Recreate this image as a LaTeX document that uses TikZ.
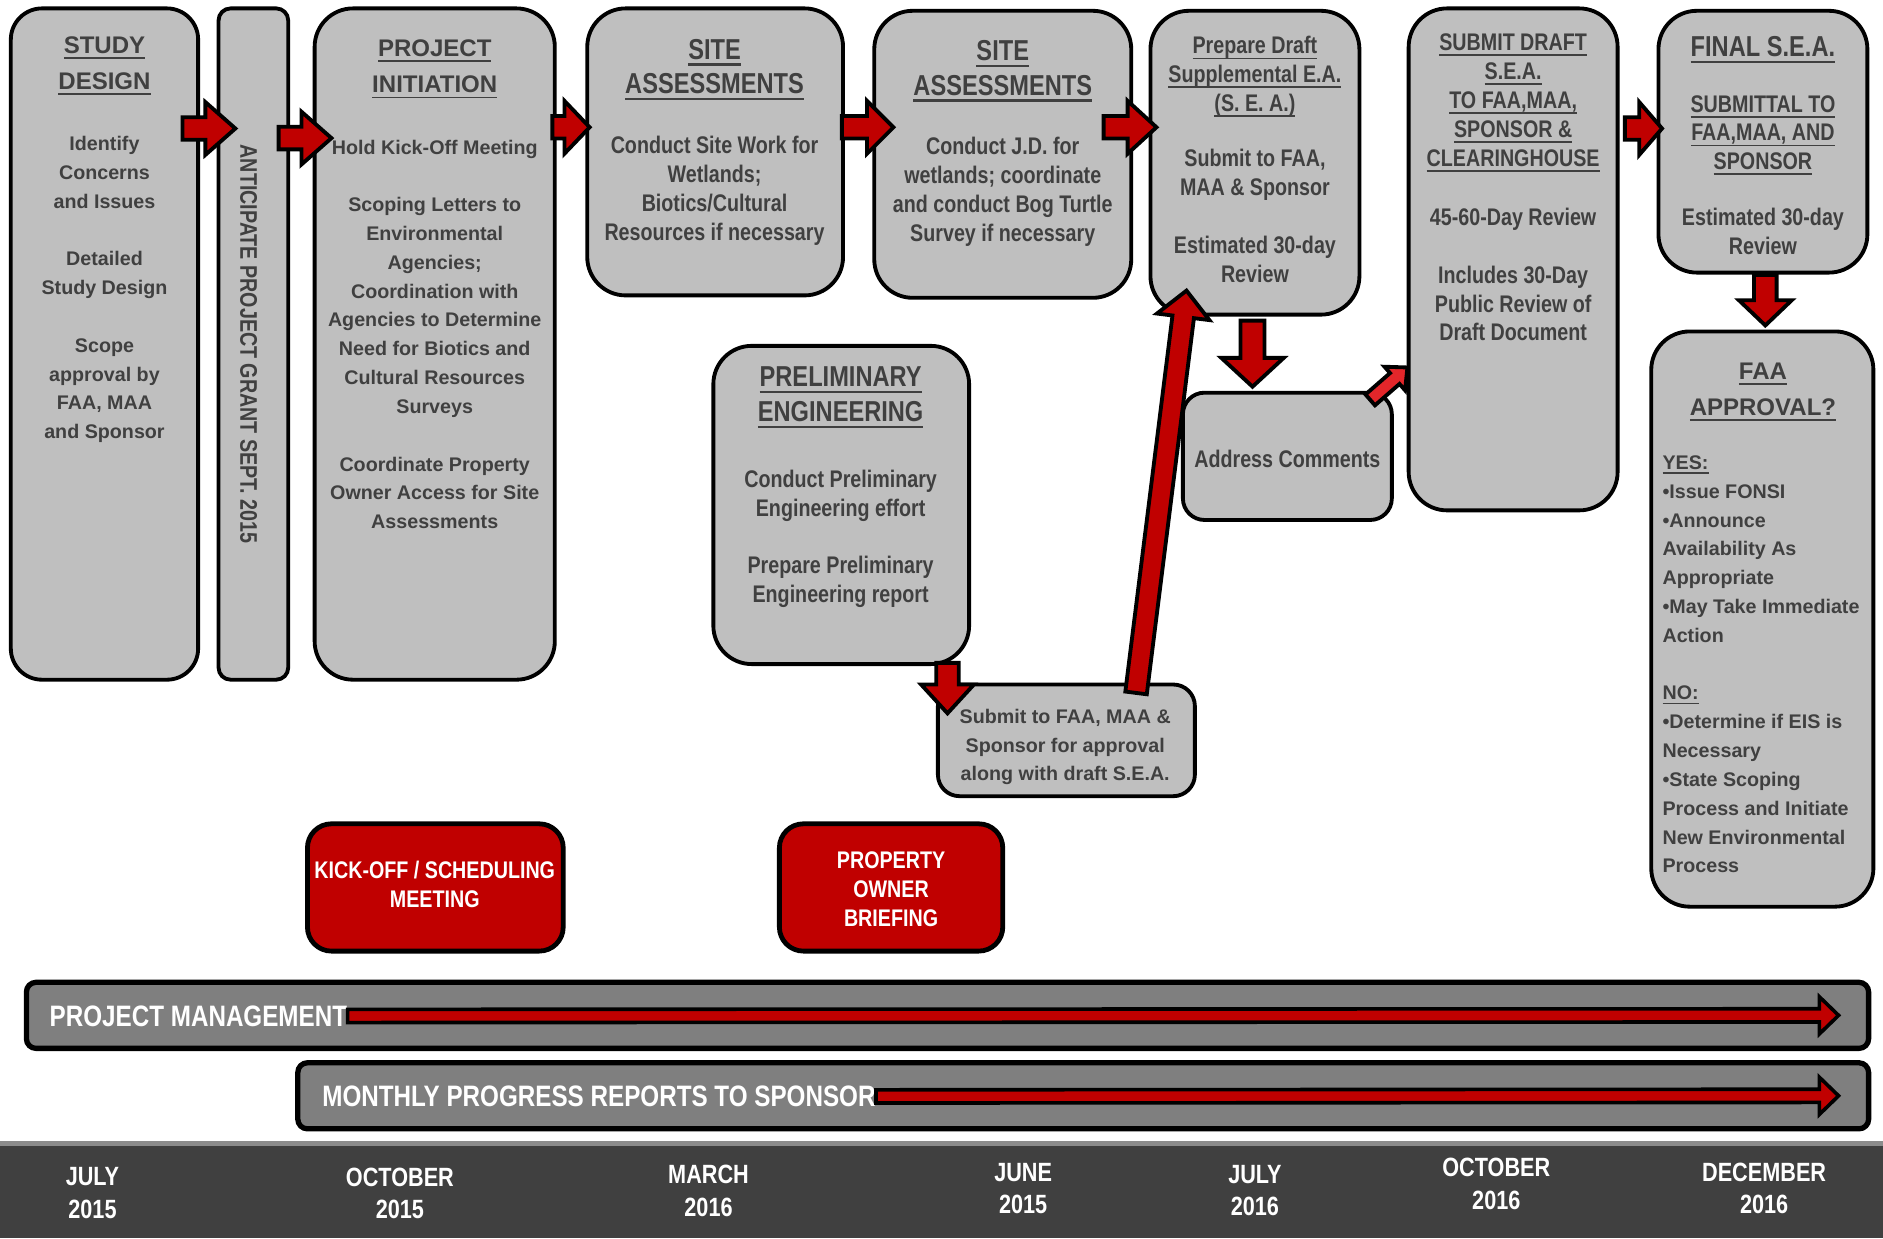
\documentclass[tikz,border=0pt]{standalone}
\usepackage{fontspec}
\setmainfont{Liberation Sans}
\newfontfamily\nar{Liberation Sans}[FakeStretch=0.82]
\usetikzlibrary{calc}
\definecolor{boxgray}{HTML}{BFBFBF}
\definecolor{txtgray}{HTML}{404040}
\definecolor{arrred}{HTML}{C00000}
\definecolor{arrlight}{HTML}{E3262A}
\definecolor{bargray}{HTML}{7F7F7F}
\definecolor{banddark}{HTML}{404040}
\definecolor{bandline}{HTML}{8C8C8C}
\newcommand\myul[1]{\leavevmode\setbox0\hbox{#1}\rlap{\vrule width\wd0 height -0.15em depth 0.23em}\box0}
\newcommand\boxnode[6][]{\node[#1, minimum width={(#5-#3)*0.5pt}, minimum height={(#6-#4)*0.5pt}] (#2) at ({(#3+#5)/2},{(#4+#6)/2}) {};}
% block arrow: #1 style, #2 from, #3 to, #4 shaft half width, #5 head half width, #6 head length
\newcommand\barrow[6][]{%
  \coordinate (baP) at ($(#3)!#6!(#2)$);
  \draw[blockarrow,#1] ($(#2)!#4!90:(#3)$) -- ($(baP)!#4!-90:(#2)$) -- ($(baP)!#5!-90:(#2)$) -- (#3)
    -- ($(baP)!#5!90:(#2)$) -- ($(baP)!#4!90:(#2)$) -- ($(#2)!#4!-90:(#3)$) -- cycle;}
\tikzset{
  graybox/.style={draw=black, fill=boxgray, line width=1.6pt, inner sep=0pt, outer sep=0pt, rounded corners=14pt},
  redbox/.style={draw=black, fill=arrred, line width=2pt, inner sep=0pt, outer sep=0pt, rounded corners=10pt},
  barbox/.style={draw=black, fill=bargray, line width=2.2pt, inner sep=0pt, outer sep=0pt, rounded corners=4pt},
  blockarrow/.style={draw=black, fill=arrred, line width=1.6pt, line join=miter},
  bararrow/.style={draw=black, fill=arrred, line width=1.5pt, line join=miter},
  rt/.style={font=\bfseries\fontsize{10}{15}\selectfont, text=txtgray, align=center, inner sep=0pt},
  rb/.style={font=\bfseries\fontsize{8.2}{12}\selectfont, text=txtgray, align=center, inner sep=0pt},
  nt/.style={font=\nar\bfseries\fontsize{12}{14.5}\selectfont, text=txtgray, align=center, inner sep=0pt},
  nb/.style={font=\nar\bfseries\fontsize{10}{12}\selectfont, text=txtgray, align=center, inner sep=0pt},
  wt/.style={font=\nar\bfseries\fontsize{10}{12}\selectfont, text=white, align=center, inner sep=0pt},
  bart/.style={font=\nar\bfseries\fontsize{12.3}{14}\selectfont, text=white, inner sep=0pt, anchor=west},
  datet/.style={font=\nar\bfseries\fontsize{11}{13.5}\selectfont, text=white, align=center, inner sep=0pt, anchor=north},
}
\begin{document}
\begin{tikzpicture}[x=0.5pt,y=-0.5pt]
\useasboundingbox (0,0) rectangle (1568,1031);
% bottom timeline band
\fill[banddark] (0,950) rectangle (1568,1031);
\fill[bandline] (0,950) rectangle (1568,954);
% boxes
\boxnode[graybox, rounded corners=13pt]{study}{9}{7}{165}{566}
\boxnode[graybox, rounded corners=5pt]{anti}{182}{7}{240}{566}
\boxnode[graybox, rounded corners=16pt]{proj}{262}{7}{462}{566}
\boxnode[graybox, rounded corners=16pt]{siteA}{489}{7}{702}{246}
\boxnode[graybox, rounded corners=16pt]{siteB}{728}{9}{942}{248}
\boxnode[graybox, rounded corners=16pt]{prep}{958}{9}{1132}{262}
\boxnode[graybox, rounded corners=16pt]{subm}{1173}{7}{1347}{425}
\boxnode[graybox, rounded corners=16pt]{final}{1381}{9}{1555}{227}
\boxnode[graybox, rounded corners=16pt]{faa}{1375}{276}{1560}{755}
\boxnode[graybox, rounded corners=16pt]{prelim}{594}{288}{807}{553}
\boxnode[graybox, rounded corners=9pt]{small}{781}{570}{995}{663}
\boxnode[graybox, rounded corners=9pt]{addr}{985}{327}{1159}{433}
\boxnode[redbox]{kick}{256}{686}{469}{792}
\boxnode[redbox]{owner}{649}{686}{835}{792}
\boxnode[barbox]{pm}{22}{818}{1556}{873}
\boxnode[barbox]{monthly}{248}{885}{1556}{940}
% texts
\node[rt, anchor=north] (studyT) at (87,30) {\myul{STUDY}\\\myul{DESIGN}};
\node[rb, anchor=north] (studyB) at (87,113) {Identify\\Concerns\\and Issues\\[12pt]Detailed\\Study Design\\[12pt]Scope\\approval by\\FAA, MAA\\and Sponsor};
\node[nb, rotate=-90] (antiT) at (207,286.5) {ANTICIPATE PROJECT GRANT SEPT. 2015};
\node[rt, anchor=north] (projT) at (362,33) {\myul{PROJECT}\\\myul{INITIATION}};
\node[rb, anchor=north] (projB) at (362,116) {Hold Kick-Off Meeting\\[12pt]Scoping Letters to\\Environmental\\Agencies;\\Coordination with\\Agencies to Determine\\Need for Biotics and\\Cultural Resources\\Surveys\\[12pt]Coordinate Property\\Owner Access for Site\\Assessments};
\node[nt, anchor=north] (siteAT) at (595,32) {\myul{SITE}\\\myul{ASSESSMENTS}};
\node[nb, anchor=north] (siteAB) at (595,113) {Conduct Site Work for\\Wetlands;\\Biotics/Cultural\\Resources if necessary};
\node[nt, anchor=north] (siteBT) at (835,33) {\myul{SITE}\\\myul{ASSESSMENTS}};
\node[nb, anchor=north] (siteBB) at (835,114) {Conduct J.D. for\\wetlands; coordinate\\and conduct Bog Turtle\\Survey if necessary};
\node[nb, anchor=north] (prepT) at (1045,30) {\myul{Prepare Draft}\\\myul{Supplemental E.A.}\\\myul{(S. E. A.)}};
\node[nb, anchor=north] (prepB) at (1045,124) {Submit to FAA,\\MAA \& Sponsor\\[12pt]Estimated 30-day\\Review};
\node[nb, anchor=north] (submT) at (1260,28) {\myul{SUBMIT DRAFT}\\\myul{S.E.A.}\\\myul{TO FAA,MAA,}\\\myul{SPONSOR \&}\\\myul{CLEARINGHOUSE}};
\node[nb, anchor=north] (submB) at (1260,173) {45-60-Day Review\\[12pt]Includes 30-Day\\Public Review of\\Draft Document};
\node[nt, anchor=north] (finalT) at (1468,30) {\myul{FINAL S.E.A.}};
\node[nb, anchor=north] (finalS) at (1468,79) {\myul{SUBMITTAL TO}\\\myul{FAA,MAA, AND}\\\myul{SPONSOR}};
\node[nb, anchor=north] (finalB) at (1468,173) {Estimated 30-day\\Review};
\node[rt, anchor=north] (faaT) at (1468,302) {\myul{FAA}\\\myul{APPROVAL?}};
\node[rb, align=left, anchor=north west] (faaB) at (1384,379) {\myul{YES:}\\•Issue FONSI\\•Announce\\Availability As\\Appropriate\\•May Take Immediate\\Action\\[12pt]\myul{NO:}\\•Determine if EIS is\\Necessary\\•State Scoping\\Process and Initiate\\New Environmental\\Process};
\node[nt, anchor=north] (prelimT) at (700,305) {\myul{PRELIMINARY}\\\myul{ENGINEERING}};
\node[nb, anchor=north] (prelimB) at (700,391) {Conduct Preliminary\\Engineering effort\\[12pt]Prepare Preliminary\\Engineering report};
\node[rb, anchor=north] (smallT) at (887,590) {Submit to FAA, MAA \&\\Sponsor for approval\\along with draft S.E.A.};
\node[nb, anchor=north] (addrT) at (1072,374) {Address Comments};
\node[wt, anchor=north] (kickT) at (362,717) {KICK-OFF / SCHEDULING\\MEETING};
\node[wt, anchor=north] (ownerT) at (742,709) {PROPERTY\\OWNER\\BRIEFING};
\node[bart] (pmT) at (41,846) {PROJECT MANAGEMENT};
\node[bart] (monthlyT) at (268,913) {MONTHLY PROGRESS REPORTS TO SPONSOR};
\node[datet] (d1) at (77,972) {JULY\\2015};
\node[datet] (d2) at (333,972) {OCTOBER\\2015};
\node[datet] (d3) at (590,970) {MARCH\\2016};
\node[datet] (d4) at (852,968) {JUNE\\2015};
\node[datet] (d5) at (1045,970) {JULY\\2016};
\node[datet] (d6) at (1246,964) {OCTOBER\\2016};
\node[datet] (d7) at (1469,968) {DECEMBER\\2016};
% connector end points tied to the nodes
\coordinate (a1s) at ($(study.east |- 0,107)+(-13,0)$);
\coordinate (a1e) at ($(anti.west |- 0,107)+(14,0)$);
\coordinate (a2s) at ($(anti.east |- 0,115)+(-8,0)$);
\coordinate (a2e) at ($(proj.west |- 0,115)+(14,0)$);
\coordinate (a3s) at ($(proj.east |- 0,106)+(-2,0)$);
\coordinate (a3e) at ($(siteA.west |- 0,106)+(2,0)$);
\coordinate (a4s) at ($(siteA.east |- 0,106)+(-1,0)$);
\coordinate (a4e) at ($(siteB.west |- 0,106)+(16,0)$);
\coordinate (a5s) at ($(siteB.east |- 0,106)+(-23,0)$);
\coordinate (a5e) at ($(prep.west |- 0,106)+(5,0)$);
\coordinate (a6s) at ($(subm.east |- 0,107)+(6,0)$);
\coordinate (a6e) at ($(final.west |- 0,107)+(3,0)$);
\coordinate (a7s) at ($(final.south -| 1470,0)+(0,2)$);
\coordinate (a7e) at ($(faa.north -| 1470,0)+(0,-5)$);
\coordinate (a8s) at ($(prep.south -| 1043,0)+(0,5)$);
\coordinate (a8e) at ($(addr.north -| 1043,0)+(0,-5)$);
\coordinate (a9s) at ($(addr.north east)+(-18,6)$);
\coordinate (a9e) at ($(subm.west |- 0,306)+(-1,0)$);
\coordinate (a10s) at ($(prelim.south -| 789,0)+(0,-1)$);
\coordinate (a10e) at ($(small.north -| 789,0)+(0,24)$);
\coordinate (a11s) at ($(small.north -| 946,0)+(0,7)$);
\coordinate (a11e) at ($(prep.south -| 988,0)+(0,-20)$);
\coordinate (b1s) at (pmT.east);
\coordinate (b1e) at ($(pm.east)+(-25,0)$);
\coordinate (b2s) at (monthlyT.east);
\coordinate (b2e) at ($(monthly.east)+(-25,0)$);
% block arrows
\barrow{a1s}{a1e}{4.7pt}{11pt}{12.5pt}
\barrow{a2s}{a2e}{4.7pt}{11pt}{12.5pt}
\barrow{a3s}{a3e}{4.7pt}{11pt}{10.5pt}
\barrow{a4s}{a4e}{4.7pt}{11pt}{11pt}
\barrow{a5s}{a5e}{4.7pt}{11pt}{12pt}
\barrow{a6s}{a6e}{4.7pt}{11pt}{9.5pt}
\barrow{a7s}{a7e}{4.7pt}{11pt}{10.5pt}
\barrow{a8s}{a8e}{5pt}{13pt}{12pt}
\barrow[fill=arrlight]{a9s}{a9e}{3pt}{6.5pt}{7pt}
\barrow{a10s}{a10e}{4.7pt}{11pt}{12pt}
\barrow{a11s}{a11e}{4.5pt}{11pt}{11pt}
\barrow[bararrow]{b1s}{b1e}{2.75pt}{7.75pt}{8pt}
\barrow[bararrow]{b2s}{b2e}{2.75pt}{7.75pt}{8pt}
\end{tikzpicture}
\end{document}
